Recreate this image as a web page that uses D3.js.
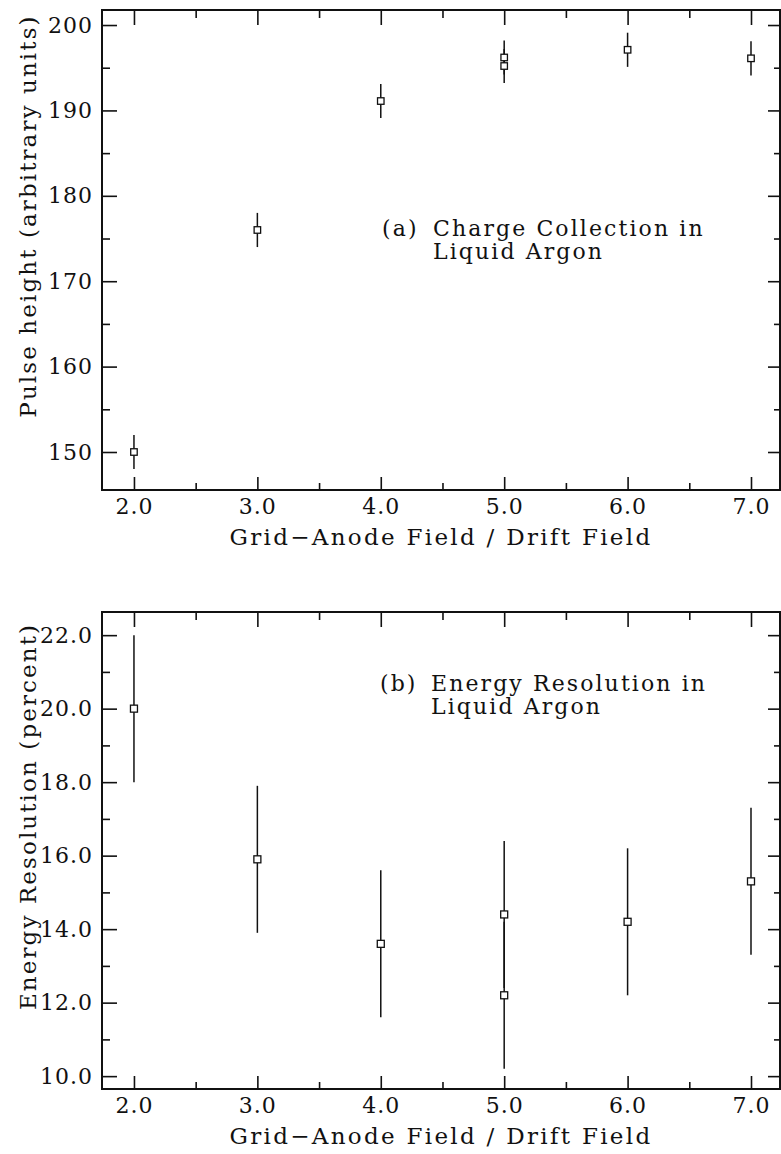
<!DOCTYPE html>
<html>
<head>
<meta charset="utf-8">
<script src="https://cdn.jsdelivr.net/npm/d3@7/dist/d3.min.js"></script>
<style>
  html, body { margin: 0; padding: 0; background: #fff; }
  svg { display: block; }
  text { font-family: "DejaVu Serif", "Liberation Serif", serif; fill: #111; }
</style>
</head>
<body>
<div id="chart"></div>
<script>
// ---------------- data ----------------
const xMajorTicks = [2, 3, 4, 5, 6, 7];
const xMinorTicks = [2.5, 3.5, 4.5, 5.5, 6.5];
const xTickLabels = ["2.0", "3.0", "4.0", "5.0", "6.0", "7.0"];
const xTitle = "Grid\u2212Anode Field / Drift Field";

// (a) Charge collection
const chargeX = [2, 3, 4, 5, 5, 6, 7];
const chargeY = [150, 176, 191.1, 196.2, 195.2, 197.1, 196.1];
const chargeErr = [2, 2, 2, 2, 2, 2, 2];
const chargeYMajor = [150, 160, 170, 180, 190, 200];
const chargeYMinor = [155, 165, 175, 185, 195];
const chargeYLabels = ["150", "160", "170", "180", "190", "200"];
const chargeYTitle = "Pulse height (arbitrary units)";
const chargeNote = ["(a)", "Charge Collection in", "Liquid Argon"];

// (b) Energy resolution
const resX = [2, 3, 4, 5, 5, 6, 7];
const resY = [20.0, 15.9, 13.6, 14.4, 12.2, 14.2, 15.3];
const resErr = [2, 2, 2, 2, 2, 2, 2];
const resYMajor = [10, 12, 14, 16, 18, 20, 22];
const resYMinor = [11, 13, 15, 17, 19, 21];
const resYLabels = ["10.0", "12.0", "14.0", "16.0", "18.0", "20.0", "22.0"];
const resYTitle = "Energy Resolution (percent)";
const resNote = ["(b)", "Energy Resolution in", "Liquid Argon"];

// ---------------- drawing ----------------
const W = 781, H = 1154;
const svg = d3.select("#chart").append("svg").attr("width", W).attr("height", H);
svg.append("rect").attr("width", W).attr("height", H).attr("fill", "#fff");

function panel(cfg) {
  const g = svg.append("g");
  const x = d3.scaleLinear().domain(cfg.xDomain).range([cfg.left, cfg.right]);
  const y = d3.scaleLinear().domain(cfg.yDomain).range([cfg.bottom, cfg.top]);

  const fmtX = d => xTickLabels[xMajorTicks.indexOf(d)];
  const fmtY = d => cfg.yLabels[cfg.yMajor.indexOf(d)];

  function styleAxis(sel) {
    sel.select(".domain").remove();
    sel.selectAll(".tick line").attr("stroke", "#111").attr("stroke-width", 1.6);
    sel.selectAll(".tick text")
      .style("font-family", '"DejaVu Serif", serif')
      .style("font-size", "22px")
      .style("letter-spacing", "1px")
      .attr("fill", "#111");
  }

  // bottom
  g.append("g").attr("transform", `translate(0,${cfg.bottom})`)
    .call(d3.axisBottom(x).tickValues(xMajorTicks).tickFormat(fmtX).tickSize(-13).tickPadding(8))
    .call(styleAxis);
  g.append("g").attr("transform", `translate(0,${cfg.bottom})`)
    .call(d3.axisBottom(x).tickValues(xMinorTicks).tickFormat("").tickSize(-7))
    .call(styleAxis);
  // top
  g.append("g").attr("transform", `translate(0,${cfg.top})`)
    .call(d3.axisTop(x).tickValues(xMajorTicks).tickFormat("").tickSize(-15))
    .call(styleAxis);
  g.append("g").attr("transform", `translate(0,${cfg.top})`)
    .call(d3.axisTop(x).tickValues(xMinorTicks).tickFormat("").tickSize(-8))
    .call(styleAxis);
  // left
  g.append("g").attr("transform", `translate(${cfg.left},0)`)
    .call(d3.axisLeft(y).tickValues(cfg.yMajor).tickFormat(fmtY).tickSize(-15).tickPadding(9))
    .call(styleAxis);
  g.append("g").attr("transform", `translate(${cfg.left},0)`)
    .call(d3.axisLeft(y).tickValues(cfg.yMinor).tickFormat("").tickSize(-8))
    .call(styleAxis);
  // right
  g.append("g").attr("transform", `translate(${cfg.right},0)`)
    .call(d3.axisRight(y).tickValues(cfg.yMajor).tickFormat("").tickSize(-12))
    .call(styleAxis);
  g.append("g").attr("transform", `translate(${cfg.right},0)`)
    .call(d3.axisRight(y).tickValues(cfg.yMinor).tickFormat("").tickSize(-6))
    .call(styleAxis);

  // frame
  g.append("rect")
    .attr("x", cfg.left).attr("y", cfg.top)
    .attr("width", cfg.right - cfg.left).attr("height", cfg.bottom - cfg.top)
    .attr("fill", "none").attr("stroke", "#111").attr("stroke-width", 2);

  // x title
  g.append("text")
    .attr("x", (cfg.left + cfg.right) / 2).attr("y", cfg.bottom + 55)
    .attr("text-anchor", "middle")
    .style("font-size", "23px").style("letter-spacing", "2.3px")
    .text(xTitle);

  // y title
  g.append("text")
    .attr("transform", `translate(36,${(cfg.top + cfg.bottom) / 2 - 34}) rotate(-90)`)
    .attr("text-anchor", "middle")
    .style("font-size", "23px").style("letter-spacing", "2.1px")
    .text(cfg.yTitle);

  // annotation (one text block, two lines)
  const note = g.append("text")
    .attr("x", cfg.noteX).attr("y", cfg.noteY)
    .style("font-size", "22px").style("letter-spacing", "2.1px");
  note.append("tspan").attr("x", cfg.noteX).attr("y", cfg.noteY).text(cfg.note[0]);
  note.append("tspan").attr("x", cfg.noteX + 51).attr("y", cfg.noteY).text(cfg.note[1]);
  note.append("tspan").attr("x", cfg.noteX + 51).attr("y", cfg.noteY + 23).text(cfg.note[2]);

  // data
  const pts = cfg.xs.map((d, i) => ({ x: d, y: cfg.ys[i], e: cfg.errs[i] }));
  g.append("g").selectAll("line").data(pts).join("line")
    .attr("x1", d => x(d.x)).attr("x2", d => x(d.x))
    .attr("y1", d => y(d.y + d.e)).attr("y2", d => y(d.y - d.e))
    .attr("stroke", "#111").attr("stroke-width", 1.5);
  const s = cfg.markerSize;
  g.append("g").selectAll("rect").data(pts).join("rect")
    .attr("x", d => x(d.x) - s / 2).attr("y", d => y(d.y) - s / 2)
    .attr("width", s).attr("height", s)
    .attr("fill", "#fff").attr("stroke", "#111").attr("stroke-width", 1.3);
}

panel({
  left: 102, right: 780, top: 10, bottom: 490,
  xDomain: [1.741, 7.235], yDomain: [145.55, 201.76],
  yMajor: chargeYMajor, yMinor: chargeYMinor, yLabels: chargeYLabels,
  yTitle: chargeYTitle, note: chargeNote, noteX: 382, noteY: 236,
  xs: chargeX, ys: chargeY, errs: chargeErr, markerSize: 6.5
});

panel({
  left: 102, right: 780, top: 612, bottom: 1089,
  xDomain: [1.741, 7.235], yDomain: [9.65, 22.63],
  yMajor: resYMajor, yMinor: resYMinor, yLabels: resYLabels,
  yTitle: resYTitle, note: resNote, noteX: 380, noteY: 691,
  xs: resX, ys: resY, errs: resErr, markerSize: 7
});
</script>
</body>
</html>
